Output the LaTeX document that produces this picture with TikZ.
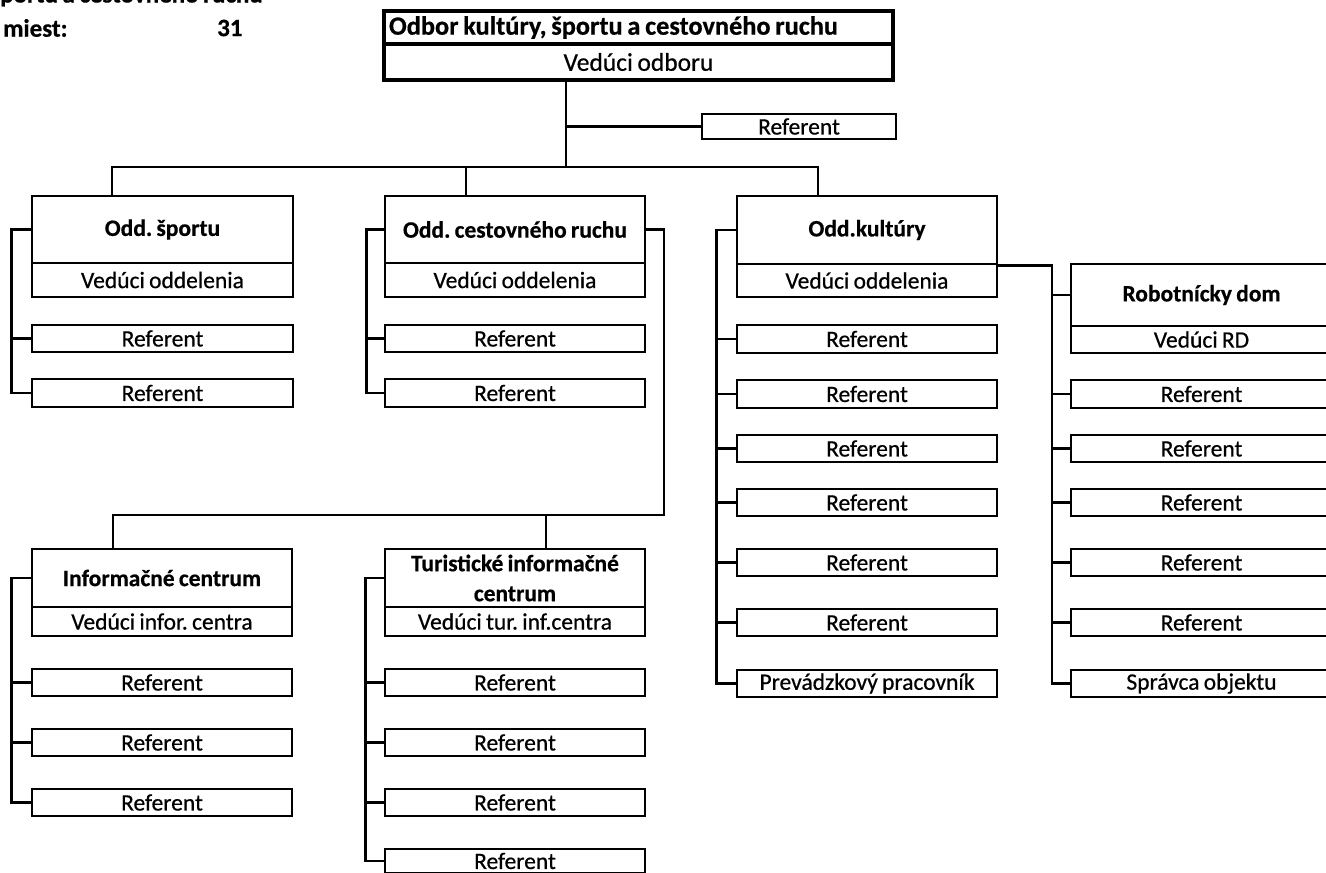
\documentclass[tikz,border=0pt]{standalone}
\usepackage{fontspec}
\setmainfont{Carlito}[FakeBold=0.6, WordSpace=0.8]
\frenchspacing
\newcommand\regf{\fontsize{23.5}{28}\selectfont}
\tikzset{
  cell/.style={draw, line width=2.8pt, inner sep=0pt, font=\regf, align=center, fill=white},
  ttl/.style={font=\bfseries\regf},
  conn/.style={line width=2.4pt, line cap=rect},
  lbl/.style={font=\bfseries\fontsize{25}{30}\selectfont, inner sep=0pt}
}
% name, x1, y1, x2, y2, text
\newcommand\cbox[7][]{\node[cell,#1,minimum width={(#5-#3)*1pt},minimum height={(#6-#4)*1pt}] (#2) at ({(#3+#5)/2},{(#4+#6)/2}) {#7};}
\begin{document}
\begin{tikzpicture}[x=1pt,y=-1pt]
\useasboundingbox (0,0) rectangle (1326,873);
\clip (0,0) rectangle (1326,873);

% header text
\node[lbl, anchor=base west] (hdr) at (-10,2.5) {športu a cestovného ruchu};
\node[lbl, anchor=west] (miest) at (3,28) {miest:};
\node[lbl, anchor=west] (num) at (217,28) {31};

% top box
\node[cell, line width=3.6pt, minimum height=33pt, text width=499pt, inner xsep=5pt, align=flush left,
      font=\bfseries\fontsize{26.3}{28}\selectfont] (topT) at (638.5,27.5) {Odbor kultúry, športu a cestovného ruchu};
\cbox[line width=3.6pt, font=\fontsize{25.5}{28}\selectfont]{topS}{384}{44}{893}{80}{Vedúci odboru}
\cbox{ref0}{702}{114}{896}{139}{Referent}

% Odd. športu
\cbox[ttl]{spT}{32}{196}{293}{263}{Odd. športu}
\cbox{spS}{32}{263}{293}{297}{Vedúci oddelenia}
\cbox{sp1}{32}{325}{293}{352}{Referent}
\cbox{sp2}{32}{379}{293}{407}{Referent}

% Odd. cestovného ruchu
\cbox[ttl]{ceT}{385}{196}{645}{263}{Odd. cestovného ruchu}
\cbox{ceS}{385}{263}{645}{297}{Vedúci oddelenia}
\cbox{ce1}{385}{325}{645}{352}{Referent}
\cbox{ce2}{385}{379}{645}{407}{Referent}

% Odd. kultúry
\cbox[ttl]{kuT}{737}{196}{997}{264}{Odd.kultúry}
\cbox{kuS}{737}{264}{997}{297}{Vedúci oddelenia}
\cbox{ku1}{737}{325}{997}{353}{Referent}
\cbox{ku2}{737}{380}{997}{408}{Referent}
\cbox{ku3}{737}{435}{997}{462}{Referent}
\cbox{ku4}{737}{489}{997}{516}{Referent}
\cbox{ku5}{737}{549}{997}{576}{Referent}
\cbox{ku6}{737}{609}{997}{636}{Referent}
\cbox{kuP}{737}{670}{997}{697}{Prevádzkový pracovník}

% Robotnícky dom
\cbox[ttl]{rdT}{1071}{264}{1332}{326}{Robotnícky dom}
\cbox{rdS}{1071}{326}{1332}{353}{Vedúci RD}
\cbox{rd1}{1071}{380}{1332}{408}{Referent}
\cbox{rd2}{1071}{435}{1332}{462}{Referent}
\cbox{rd3}{1071}{489}{1332}{516}{Referent}
\cbox{rd4}{1071}{549}{1332}{576}{Referent}
\cbox{rd5}{1071}{609}{1332}{636}{Referent}
\cbox{rdP}{1071}{670}{1332}{697}{Správca objektu}

% Informačné centrum
\cbox[ttl]{ifT}{32}{549}{292}{607}{Informačné centrum}
\cbox{ifS}{32}{607}{292}{636}{Vedúci infor. centra}
\cbox{if1}{32}{669}{292}{696}{Referent}
\cbox{if2}{32}{729}{292}{756}{Referent}
\cbox{if3}{32}{789}{292}{816}{Referent}

% Turistické informačné centrum
\cbox[font=\bfseries\fontsize{23.5}{30}\selectfont]{tuT}{385}{549}{645}{607}{Turistické informačné\\centrum}
\cbox{tuS}{385}{607}{645}{636}{Vedúci tur. inf.centra}
\cbox{tu1}{385}{669}{645}{696}{Referent}
\cbox{tu2}{385}{729}{645}{756}{Referent}
\cbox{tu3}{385}{789}{645}{816}{Referent}
\cbox{tu4}{385}{849}{645}{873}{Referent}

% connectors: top level
\coordinate (hub) at (566,167);
\coordinate (dA) at (112,167);
\coordinate (dB) at (466,167);
\coordinate (dC) at (818,167);
\draw[conn] (topS.south -| hub) -- (hub);
\draw[conn] (ref0.west) -- (ref0.west -| hub);
\draw[conn] (dA) -- (dC);
\draw[conn] (dA) -- (dA |- spT.north);
\draw[conn] (dB) -- (dB |- ceT.north);
\draw[conn] (dC) -- (dC |- kuT.north);

% športu spine
\draw[conn] (spT.west) -- ++(-19,0) |- (sp2.west);
\draw[conn] (sp1.west) -- ++(-19,0);

% cestovného spine
\draw[conn] (ceT.west) -- ++(-17,0) |- (ce2.west);
\draw[conn] (ce1.west) -- ++(-17,0);

% kultúry spine
\draw[conn] (kuT.west) -- ++(-19,0) |- (kuP.west);
\foreach \n in {ku1,ku2,ku3,ku4,ku5,ku6} \draw[conn] (\n.west) -- ++(-19,0);

% kultúry -> Robotnícky dom
\coordinate (rdx) at (1052,0);
\draw[conn] (kuT.south east) -| (rdx |- rdP.west) -- (rdP.west);
\foreach \n in {rdT,rd1,rd2,rd3,rd4,rd5} \draw[conn] (\n.west) -- (\n.west -| rdx);

% cestovného -> lower centres
\coordinate (dE) at (664,515);
\coordinate (dF) at (113,515);
\coordinate (dG) at (546,515);
\draw[conn] (ceT.east) -| (dE) -- (dF);
\draw[conn] (dF) -- (dF |- ifT.north);
\draw[conn] (dG) -- (dG |- tuT.north);

% informačné spine
\draw[conn] (ifT.west) -- ++(-19,0) |- (if3.west);
\foreach \n in {if1,if2} \draw[conn] (\n.west) -- ++(-19,0);

% turistické spine
\draw[conn] (tuT.west) -- ++(-18,0) |- (tu4.west);
\foreach \n in {tu1,tu2,tu3} \draw[conn] (\n.west) -- ++(-18,0);
\end{tikzpicture}
\end{document}
